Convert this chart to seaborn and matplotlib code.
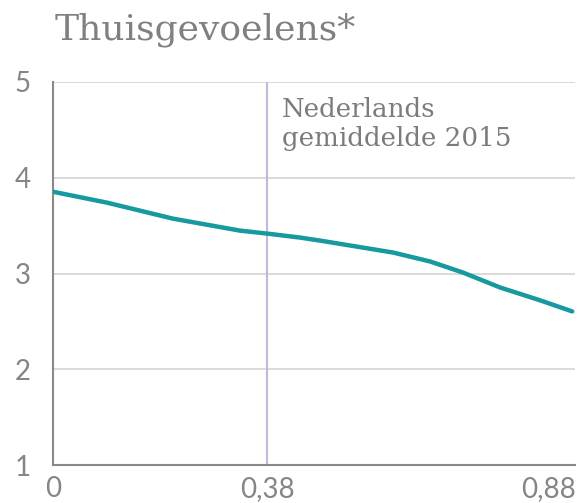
import matplotlib
matplotlib.use('Agg')
import matplotlib.pyplot as plt
import seaborn as sns
import pandas as pd

# data
score_x = [0.0, 0.096, 0.213, 0.332, 0.38, 0.439, 0.474, 0.604, 0.67, 0.728, 0.794, 0.865, 0.922]
score_y = [3.854, 3.74, 3.573, 3.448, 3.417, 3.375, 3.344, 3.219, 3.125, 3.01, 2.854, 2.72, 2.604]
x_ticks = [0, 0.38, 0.88]
x_labels = ['0', '0,38', '0,88']
y_ticks = [1, 2, 3, 4, 5]
nl_avg = 0.38

df = pd.DataFrame({'x': score_x, 'y': score_y})

sns.set_theme(style='white')
plt.rcParams['font.family'] = ['Lato', 'DejaVu Sans']

fig = plt.figure(figsize=(5.82, 5.03), dpi=100)
ax = fig.add_axes([0.091, 0.0755, 0.897, 0.7615])

for yv in y_ticks[1:]:
    ax.axhline(yv, color='#d4d4d4', lw=1.2, zorder=0)
ax.axvline(nl_avg, color='#c9b6dc', lw=1.5, zorder=1)

sns.lineplot(data=df, x='x', y='y', ax=ax, color='#16999f', lw=3.2, zorder=3)

ax.set_xlim(0, 0.927)
ax.set_ylim(1, 5)
ax.set_xticks(x_ticks)
ax.set_xticklabels(x_labels)
ax.set_yticks(y_ticks)
ax.set_xlabel('')
ax.set_ylabel('')
ax.tick_params(axis='both', length=0, labelsize=20, colors='#858585', pad=8)
ax.tick_params(axis='y', pad=16)

for s in ['top', 'right']:
    ax.spines[s].set_visible(False)
for s in ['left', 'bottom']:
    ax.spines[s].set_color('#8a8a8a')
    ax.spines[s].set_linewidth(1.5)

ax.text(0.406, 4.84, 'Nederlands\ngemiddelde 2015', fontsize=18.8, color='#7c7c7c',
        family='DejaVu Serif', va='top', ha='left', linespacing=1.2)

fig.text(0.093, 0.94, 'Thuisgevoelens*', fontsize=26, color='#808080',
         family='DejaVu Serif', va='center', ha='left')

fig.savefig('out.png', dpi=100)
